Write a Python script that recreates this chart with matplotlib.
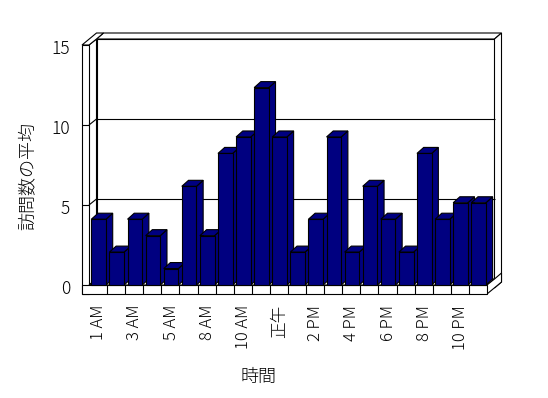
import matplotlib
matplotlib.use("Agg")
import matplotlib.pyplot as plt
from matplotlib.patches import Polygon, Rectangle
from matplotlib.transforms import ScaledTranslation

plt.rcParams['font.family'] = ['Noto Sans CJK JP', 'DejaVu Sans']
plt.rcParams['font.weight'] = 'light'

# data
hours = ['1 AM', '2 AM', '3 AM', '4 AM', '5 AM', '6 AM', '8 AM', '9 AM', '10 AM', '11 AM',
         '正午', '1 PM', '2 PM', '3 PM', '4 PM', '5 PM', '6 PM', '7 PM', '8 PM', '9 PM',
         '10 PM', '11 PM']
visits = [4, 2, 4, 3, 1, 6, 3, 8, 9, 12, 9, 2, 4, 9, 2, 6, 4, 2, 8, 4, 5, 5]
yticks = [0, 5, 10, 15]
ylabel = '訪問数の平均'
xlabel = '時間'

n = len(hours)
ymax = 15
navy = '#000080'

fig = plt.figure(figsize=(5.48, 3.98), dpi=100)
W, H = 548, 398
ax = fig.add_axes([89 / W, (H - 285) / H, 398 / W, 240 / H])
ax.set_xlim(0, n)
ax.set_ylim(0, ymax)
ax.axis('off')

# pixel -> data helpers for the 3d look
SX = 398 / n
SY = 240 / ymax
Dx, Dy = 7.5 / SX, 6 / SY      # floor depth
Tx, Ty = 7 / SX, 6 / SY        # wall thickness
WL = 7 / SX                    # left wall thickness
FT = 9 / SY                    # floor thickness
Bx, By = 6.7 / SX, 6 / SY      # bar depth
PERSP = 1.028                  # bars sit nearer the viewer
lw = 0.8


def poly(pts, fc='white', z=1):
    ax.add_patch(Polygon(pts, closed=True, facecolor=fc, edgecolor='black',
                         linewidth=lw, clip_on=False, zorder=z, joinstyle='miter'))


def line(xs, ys, z=2):
    ax.plot(xs, ys, color='black', linewidth=lw, clip_on=False, zorder=z,
            solid_capstyle='butt')


# back wall
poly([(Dx, Dy), (n + Dx, Dy), (n + Dx, ymax + Dy), (Dx, ymax + Dy)], z=1)
poly([(Dx, ymax + Dy), (Dx + Tx, ymax + Dy + Ty), (n + Dx + Tx, ymax + Dy + Ty),
      (n + Dx, ymax + Dy)], z=1)
poly([(n + Dx, ymax + Dy), (n + Dx + Tx, ymax + Dy + Ty), (n + Dx + Tx, Dy + Ty - FT),
      (n + Dx, Dy - FT)], z=1)

# left wall
poly([(0, 0), (0, ymax), (Dx, ymax + Dy), (Dx, Dy)], z=2)
poly([(-WL, ymax), (0, ymax), (Dx, ymax + Dy), (Dx + Tx, ymax + Dy + Ty),
      (-WL + Dx + Tx, ymax + Dy + Ty)], z=2)
ax.add_patch(Rectangle((-WL, -FT), WL, ymax + FT, facecolor='white', edgecolor='black',
                       linewidth=lw, clip_on=False, zorder=2))

# gridlines and ticks on the walls
for g in yticks[1:-1]:
    line([Dx, n + Dx], [g + Dy, g + Dy], z=3)
    line([0, Dx], [g, g + Dy], z=3)
    line([-WL, 0], [g, g], z=3)

# floor
poly([(0, 0), (n, 0), (n + Dx, Dy), (Dx, Dy)], z=3)
poly([(n, 0), (n + Dx, Dy), (n + Dx + Tx, Dy + Ty), (n + Dx + Tx, Dy + Ty - FT),
      (n, -FT)], z=3)
ax.add_patch(Rectangle((-WL, -FT), n + WL, FT, facecolor='white', edgecolor='black',
                       linewidth=lw, clip_on=False, zorder=3))
for i in range(1, n):
    line([i, i], [-FT, 0], z=4)

# bars, left to right so each front covers the previous side
b0, b1 = 0.13, 0.94
for i, v in enumerate(visits):
    h = v * PERSP
    z = 5 + i * 0.01
    poly([(i + b1, 0), (i + b1 + Bx, By), (i + b1 + Bx, h + By), (i + b1, h)], fc=navy, z=z)
    poly([(i + b0, h), (i + b0 + Bx, h + By), (i + b1 + Bx, h + By), (i + b1, h)], fc=navy, z=z)
    ax.add_patch(Rectangle((i + b0, 0), b1 - b0, h, facecolor=navy, edgecolor='black',
                           linewidth=lw, clip_on=False, zorder=z + 0.005))

# value labels
off_y = ScaledTranslation(-12 / 100, -4 / 100, fig.dpi_scale_trans)
for t in yticks:
    ax.text(-WL, t, str(t), ha='right', va='center', fontsize=12.5,
            transform=ax.transData + off_y)

# hour labels (every other one)
off_x = ScaledTranslation(0, -20 / 100, fig.dpi_scale_trans)
for i in range(0, n, 2):
    ax.text(i + (b0 + b1) / 2, 0, hours[i], rotation=90, ha='center', va='top',
            fontsize=12, transform=ax.transData + off_x)

fig.text(27.5 / W, 1 - 176.5 / H, ylabel, rotation=90, ha='center', va='center', fontsize=13)
fig.text(259 / W, 1 - 376.5 / H, xlabel, ha='center', va='center', fontsize=13)

fig.savefig('out.png', dpi=100, facecolor='white')
